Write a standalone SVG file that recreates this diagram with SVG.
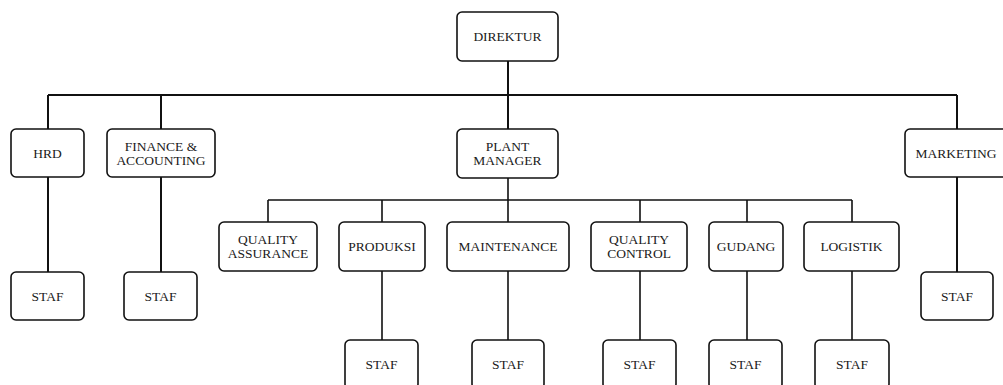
<svg xmlns="http://www.w3.org/2000/svg" width="1003" height="385" viewBox="0 0 1003 385">
<style>
.box{fill:#fff;stroke:#111;stroke-width:1.6}
.t{font-family:'Liberation Serif','Times New Roman',serif;font-size:13.5px;fill:#1a1a1a;text-anchor:middle;dominant-baseline:central}
.c{stroke:#111;stroke-width:1.6;fill:none}
</style>
<rect width="1003" height="385" fill="#fff"/>
<g id="connectors">
<path class="c" d="M508,61V129M48,95H957M48,95V129M161,95V129M957,95V129M48,177V272M161,177V272M957,177V272" style="stroke-width:2"/>
<path class="c" d="M508,178V222M268,200H852M268,200V222M382,200V222M640,200V222M747,200V222M852,200V222M382,271V340M508,271V340M640,271V340M747,271V340M852,271V340"/>
</g>
<g id="direktur"><rect class="box" x="457" y="12" width="101" height="49" rx="5"/><text class="t" x="507.5" y="36.5">DIREKTUR</text></g>
<g id="hrd"><rect class="box" x="11" y="129" width="73" height="48" rx="5"/><text class="t" x="47.5" y="153">HRD</text></g>
<g id="finance"><rect class="box" x="107" y="129" width="108" height="48" rx="5"/><text class="t" x="161" y="146">FINANCE &amp;</text><text class="t" x="161" y="160">ACCOUNTING</text></g>
<g id="plant-manager"><rect class="box" x="457" y="129" width="101" height="49" rx="5"/><text class="t" x="507.5" y="146.5">PLANT</text><text class="t" x="507.5" y="160.5">MANAGER</text></g>
<g id="marketing"><rect class="box" x="905" y="129" width="104" height="48" rx="5"/><text class="t" x="956" y="153">MARKETING</text></g>
<g id="hrd-staf"><rect class="box" x="11" y="272" width="73" height="48" rx="5"/><text class="t" x="47.5" y="296">STAF</text></g>
<g id="finance-staf"><rect class="box" x="124" y="272" width="73" height="48" rx="5"/><text class="t" x="160.5" y="296">STAF</text></g>
<g id="marketing-staf"><rect class="box" x="921" y="272" width="72" height="48" rx="5"/><text class="t" x="957" y="296">STAF</text></g>
<g id="qa"><rect class="box" x="219" y="222" width="98" height="49" rx="5"/><text class="t" x="268" y="239.5">QUALITY</text><text class="t" x="268" y="253.5">ASSURANCE</text></g>
<g id="produksi"><rect class="box" x="339" y="222" width="86" height="49" rx="5"/><text class="t" x="382" y="246.5">PRODUKSI</text></g>
<g id="maintenance"><rect class="box" x="447" y="222" width="122" height="49" rx="5"/><text class="t" x="508" y="246.5">MAINTENANCE</text></g>
<g id="qc"><rect class="box" x="591" y="222" width="96" height="49" rx="5"/><text class="t" x="639" y="239.5">QUALITY</text><text class="t" x="639" y="253.5">CONTROL</text></g>
<g id="gudang"><rect class="box" x="709" y="222" width="74" height="49" rx="5"/><text class="t" x="746" y="246.5">GUDANG</text></g>
<g id="logistik"><rect class="box" x="804" y="222" width="95" height="49" rx="5"/><text class="t" x="851.5" y="246.5">LOGISTIK</text></g>
<g id="produksi-staf"><rect class="box" x="345" y="340" width="73" height="49" rx="5"/><text class="t" x="381.5" y="364">STAF</text></g>
<g id="maintenance-staf"><rect class="box" x="472" y="340" width="72" height="49" rx="5"/><text class="t" x="508" y="364">STAF</text></g>
<g id="qc-staf"><rect class="box" x="603" y="340" width="73" height="49" rx="5"/><text class="t" x="639.5" y="364">STAF</text></g>
<g id="gudang-staf"><rect class="box" x="709" y="340" width="73" height="49" rx="5"/><text class="t" x="745.5" y="364">STAF</text></g>
<g id="logistik-staf"><rect class="box" x="815" y="340" width="74" height="49" rx="5"/><text class="t" x="852" y="364">STAF</text></g>
</svg>
